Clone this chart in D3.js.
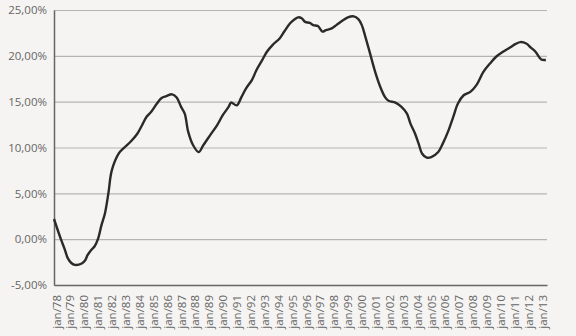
<!DOCTYPE html>
<html>
<head>
<meta charset="utf-8">
<script src="https://cdn.jsdelivr.net/npm/d3@7"></script>
<style>
  body { margin: 0; background: #f5f4f2; }
  svg { display: block; }
  .tick text { font-family: "Open Sans", sans-serif; font-size: 11.5px; fill: #666; }
</style>
</head>
<body>
<div class="chart"></div>
<script>
// data
var dates = ["1978-01","1978-07","1978-10","1979-01","1979-04","1979-07","1980-01","1980-04","1980-06","1980-09",
  "1980-12","1981-03","1981-06","1981-09","1981-12","1982-03","1982-09","1983-01","1983-07","1984-01",
  "1984-05","1984-09","1985-01","1985-06","1985-10","1986-02","1986-07","1986-11","1987-03","1987-06",
  "1987-09","1988-01","1988-06","1988-10","1989-04","1989-10","1990-03","1990-08","1990-10","1991-03",
  "1991-07","1991-11","1992-04","1992-08","1993-01","1993-05","1993-10","1994-04","1994-08","1995-01",
  "1995-05","1995-08","1995-11","1996-02","1996-06","1996-09","1997-01","1997-05","1997-08","1998-01",
  "1998-05","1998-11","1999-03","1999-08","1999-12","2000-03","2000-06","2000-10","2001-02","2001-07",
  "2001-11","2002-02","2002-08","2003-01","2003-06","2003-09","2004-01","2004-04","2004-07","2004-11",
  "2005-03","2005-09","2006-01","2006-06","2006-10","2007-02","2007-07","2008-01","2008-06","2008-12",
  "2009-06","2009-11","2010-05","2010-11","2011-04","2011-08","2012-01","2012-05","2012-09","2013-02",
  "2013-06"];
var values = [2.2,0.0,-1.0,-2.1,-2.6,-2.8,-2.65,-2.3,-1.75,-1.2,
  -0.8,0.0,1.5,2.8,5.0,7.5,9.35,9.9,10.6,11.5,
  12.4,13.35,13.9,14.8,15.4,15.6,15.8,15.45,14.4,13.7,
  11.7,10.3,9.5,10.25,11.35,12.45,13.55,14.45,14.9,14.6,
  15.5,16.45,17.35,18.45,19.55,20.45,21.2,21.9,22.65,23.55,
  24.0,24.2,24.1,23.7,23.6,23.35,23.25,22.65,22.8,23.0,
  23.35,23.9,24.2,24.3,24.0,23.35,22.1,20.3,18.45,16.6,
  15.5,15.1,14.9,14.45,13.7,12.6,11.5,10.45,9.35,8.9,
  8.95,9.5,10.45,11.9,13.35,14.8,15.7,16.1,16.8,18.25,
  19.2,19.9,20.45,20.9,21.3,21.5,21.35,20.9,20.45,19.6,
  19.55];
var yTicks = [-5, 0, 5, 10, 15, 20, 25];
var xTickYears = d3.range(1978, 2014);

var svgWidth = 576, svgHeight = 336;
var margin = {top: 10, right: 29, bottom: 51, left: 54};
var width = svgWidth - margin.left - margin.right;
var height = svgHeight - margin.top - margin.bottom;

var parse = d3.timeParse("%Y-%m");
var data = dates.map((d, i) => ({date: parse(d), value: values[i]}));

var svg = d3.select(".chart").append("svg")
  .attr("width", svgWidth)
  .attr("height", svgHeight);

var chartGroup = svg.append("g")
  .attr("transform", `translate(${margin.left}, ${margin.top})`);

var x = d3.scaleTime()
  .domain([parse("1978-01"), parse("2013-07")])
  .range([0, width]);
var y = d3.scaleLinear().domain([-5, 25]).range([height, 0]);

// gridlines
chartGroup.append("g")
  .call(d3.axisLeft(y).tickValues(yTicks).tickSize(-width).tickFormat(""))
  .call(g => g.select(".domain").remove())
  .call(g => g.selectAll(".tick line").attr("stroke", "#b4b4b4").attr("stroke-width", 1.2));

// y axis, comma decimals and a plain hyphen for the minus
var fmt = d => d3.format(".2f")(d).replace(".", ",").replace("\u2212", "-") + "%";
chartGroup.append("g")
  .call(d3.axisLeft(y).tickValues(yTicks).tickSize(0).tickPadding(7).tickFormat(fmt))
  .call(g => g.select(".domain").attr("stroke", "#666").attr("stroke-width", 1.5));

// x axis
chartGroup.append("g")
  .attr("transform", `translate(0, ${height})`)
  .call(d3.axisBottom(x).tickValues(xTickYears.map(yr => new Date(yr, 0, 1)))
    .tickSize(0).tickFormat(d3.timeFormat("jan/%y")))
  .call(g => g.select(".domain").attr("stroke", "#666").attr("stroke-width", 1.5))
  .call(g => g.selectAll(".tick text")
    .attr("transform", "rotate(-90)")
    .attr("text-anchor", "end")
    .attr("x", -10)
    .attr("y", 2)
    .attr("dy", "0.35em"));

// line
chartGroup.append("path")
  .datum(data)
  .attr("fill", "none")
  .attr("stroke", "#2a2a2a")
  .attr("stroke-width", 2.4)
  .attr("stroke-linejoin", "round")
  .attr("d", d3.line().x(d => x(d.date)).y(d => y(d.value)).curve(d3.curveCatmullRom));
</script>
</body>
</html>
